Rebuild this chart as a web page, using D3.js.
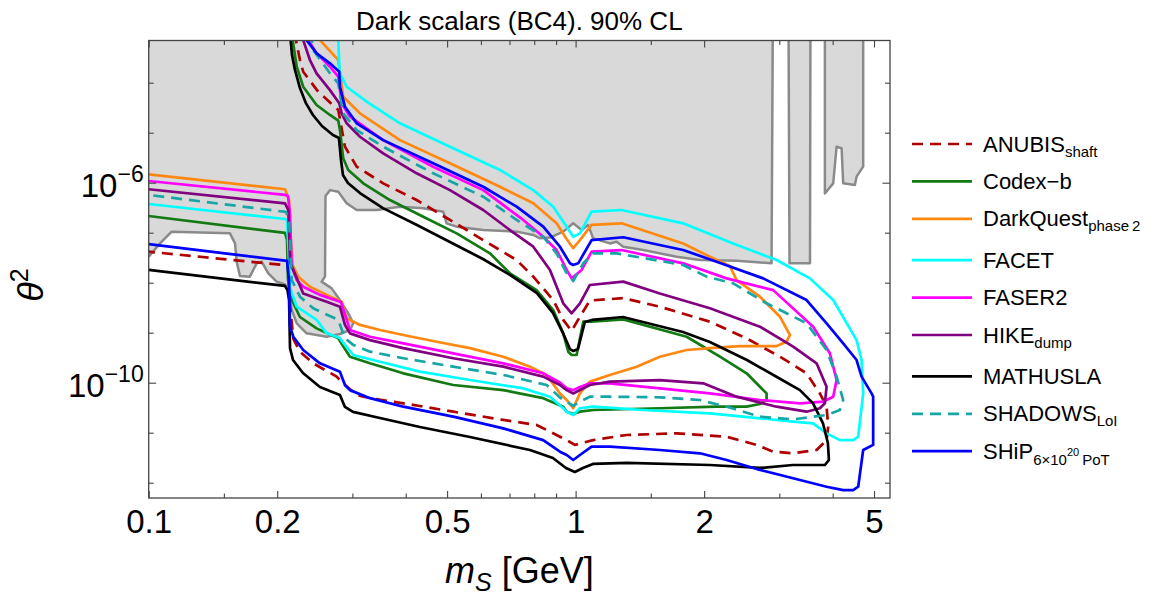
<!DOCTYPE html>
<html><head><meta charset="utf-8">
<script src="https://cdn.jsdelivr.net/npm/d3@7"></script>
<style>
body{margin:0;background:#fff;}
svg{display:block;font-family:"Liberation Sans",Arial,sans-serif;}
</style></head><body>
<svg id="chart" width="1153" height="592"></svg>
<script>
// ---- axis ticks ----
const massMajor = [0.1, 0.2, 0.5, 1, 2, 5];
const massMinor = [0.15, 0.3, 0.4, 0.6, 0.7, 0.8, 0.9, 1.5, 3, 4];
const thetaMajor = [1e-6, 1e-10];
const thetaMinor = [1e-12, 1e-11, 1e-9, 1e-8, 1e-7, 1e-5, 1e-4];

// ---- sensitivity contours: [m_S (GeV), theta^2] ----
const anubis = [[0.219,1e-3],[0.2213,7.1e-4],[0.2261,2.84e-4],[0.2301,1.66e-4],[0.2495,6.6e-5],[0.278,2.84e-5],[0.2882,5.25e-6],[0.307,2.09e-6],[0.3542,9.7e-7],[0.4242,4.5e-7],[0.5077,1.8e-7],[0.6076,7.1e-8],[0.7275,2.84e-8],[0.7959,1.32e-8],[0.8862,4.5e-9],[0.9354,1.8e-9],[0.9786,1.08e-9],[1.0235,2.09e-9],[1.080,4.4e-9],[1.293,4.9e-9],[1.575,3.31e-9],[2.063,1.66e-9],[2.515,7.7e-10],[3.010,3.31e-10],[3.475,1.54e-10],[3.734,6.1e-11],[3.871,3.31e-11],[3.905,1.32e-11],[3.871,7.1e-12],[3.668,4.5e-12],[3.233,3.87e-12],[2.902,4.17e-12],[2.654,5.7e-12],[2.258,8.3e-12],[1.724,9.7e-12],[1.316,9.0e-12],[1.099,7.1e-12],[1.042,6.3e-12],[0.996,5.7e-12],[0.953,7.1e-12],[0.9189,8.3e-12],[0.8101,1.43e-11],[0.6768,1.8e-11],[0.5168,2.63e-11],[0.3948,3.87e-11],[0.3298,4.9e-11],[0.307,5.7e-11],[0.2855,9.7e-11],[0.2756,1.32e-10],[0.2429,2.44e-10],[0.2261,4.17e-10],[0.2182,7.5e-10],[0.2137,4.5e-9],[0.212,2.16e-8],[0.2066,2.26e-8],[0.1,4.17e-8]];

const codexB = [[0.2166,1e-3],[0.2174,7.1e-4],[0.2222,2.09e-4],[0.2301,8.3e-5],[0.2473,3.58e-5],[0.2658,2.26e-5],[0.278,1.74e-5],[0.2805,1.13e-5],[0.2855,3.08e-6],[0.2934,1.8e-6],[0.3181,9.7e-7],[0.3673,4.5e-7],[0.4396,2.09e-7],[0.5264,9.7e-8],[0.6300,3.87e-8],[0.7018,1.54e-8],[0.8101,7.1e-9],[0.8862,2.84e-9],[0.9354,9.7e-10],[0.9609,4.17e-10],[0.9786,3.58e-10],[1.0054,3.58e-10],[1.042,1.66e-9],[1.090,1.66e-9],[1.293,1.85e-9],[1.820,8.3e-10],[2.178,3.31e-10],[2.515,1.54e-10],[2.702,8.3e-11],[2.801,6.1e-11],[2.801,4.5e-11],[2.702,3.75e-11],[2.515,3.31e-11],[2.139,3.31e-11],[1.575,3.08e-11],[1.099,2.84e-11],[1.0235,2.63e-11],[0.987,2.37e-11],[0.953,2.63e-11],[0.9354,3.31e-11],[0.8397,4.9e-11],[0.6768,7.1e-11],[0.5168,9.0e-11],[0.3948,1.54e-10],[0.3298,2.44e-10],[0.2961,3.31e-10],[0.2882,4.72e-10],[0.278,7.7e-10],[0.2473,1.22e-9],[0.2261,2.06e-9],[0.2163,4.5e-9],[0.212,1.13e-8],[0.2109,7.1e-8],[0.2086,9.9e-8],[0.1,2.16e-7]];

const darkQuest = [[0.2490,1e-3],[0.2518,7.1e-4],[0.278,2.84e-4],[0.2805,1.56e-4],[0.2855,5.25e-5],[0.3125,2.44e-5],[0.3877,7.1e-6],[0.5077,2.44e-6],[0.6649,8.3e-7],[0.7959,3.87e-7],[0.9026,1.54e-7],[0.949,7.8e-8],[0.987,4.9e-8],[1.0235,7.1e-8],[1.090,1.43e-7],[1.281,1.54e-7],[1.786,6.1e-8],[2.063,3.31e-8],[2.298,2.16e-8],[2.382,1.13e-8],[2.702,5.25e-9],[3.010,2.09e-9],[3.177,9.0e-10],[3.120,6.6e-10],[2.956,5.4e-10],[2.426,5.4e-10],[2.063,4.9e-10],[1.820,4.5e-10],[1.575,3.31e-10],[1.390,2.09e-10],[1.203,1.43e-10],[1.080,1.05e-10],[1.0235,6.1e-11],[0.987,3.08e-11],[0.953,4.5e-11],[0.9189,6.1e-11],[0.8553,1.43e-10],[0.7818,2.09e-10],[0.6768,3.31e-10],[0.5655,4.9e-10],[0.4726,6.6e-10],[0.3948,9.0e-10],[0.3480,1.13e-9],[0.3125,1.43e-9],[0.2909,1.94e-9],[0.2831,4.17e-9],[0.2611,5.7e-9],[0.2386,8.3e-9],[0.2241,1.32e-8],[0.2174,2.26e-8],[0.2143,1.13e-7],[0.2132,4.5e-7],[0.2086,7.4e-7],[0.1,1.47e-6]];

const facet = [[0.278,1e-3],[0.278,7.1e-4],[0.2801,1.54e-4],[0.2909,8.3e-5],[0.324,4.17e-5],[0.3877,1.54e-5],[0.5077,5.25e-6],[0.6649,1.8e-6],[0.7959,7.1e-7],[0.8862,3.31e-7],[0.953,1.32e-7],[0.987,8.3e-8],[1.0235,9.7e-8],[1.090,2.63e-7],[1.281,2.84e-7],[1.786,1.54e-7],[2.339,6.1e-8],[2.956,2.84e-8],[3.538,1.22e-8],[4.012,4.5e-9],[4.551,7.1e-10],[4.675,2.84e-10],[4.716,6.1e-11],[4.591,8.3e-12],[4.469,7.1e-12],[4.159,7.1e-12],[3.871,9.7e-12],[3.601,1.54e-11],[3.233,1.66e-11],[2.702,1.94e-11],[2.063,2.44e-11],[1.440,2.84e-11],[1.099,3.31e-11],[1.0235,3.08e-11],[0.987,2.26e-11],[0.953,2.63e-11],[0.9354,3.08e-11],[0.8708,5.25e-11],[0.754,7.7e-11],[0.5655,1.13e-10],[0.4318,1.66e-10],[0.3480,2.63e-10],[0.3014,3.58e-10],[0.2882,5.7e-10],[0.2805,7.8e-10],[0.2611,9.7e-10],[0.2473,1.8e-9],[0.2222,3.31e-9],[0.2143,7.8e-9],[0.2126,4.5e-8],[0.2109,1.8e-7],[0.2086,1.88e-7],[0.1,3.75e-7]];

const faser2 = [[0.2335,1e-3],[0.2365,7.1e-4],[0.2473,3.87e-4],[0.2658,2.09e-4],[0.278,1.32e-4],[0.2831,3.87e-5],[0.2961,2.09e-5],[0.3542,7.1e-6],[0.4638,2.09e-6],[0.6076,7.1e-7],[0.754,1.8e-7],[0.8397,8.3e-8],[0.9026,4.5e-8],[0.953,1.8e-8],[0.9786,1.22e-8],[1.033,1.8e-8],[1.090,4.17e-8],[1.281,4.5e-8],[1.786,2.44e-8],[2.258,1.22e-8],[2.902,7.1e-9],[3.601,1.32e-9],[3.941,3.87e-10],[4.086,1.13e-10],[4.012,5.25e-11],[3.801,4.17e-11],[3.353,3.87e-11],[2.702,4.5e-11],[2.063,6.1e-11],[1.575,7.7e-11],[1.203,9.7e-11],[1.080,9.7e-11],[1.0235,8.2e-11],[0.987,7.1e-11],[0.953,7.7e-11],[0.9189,1.01e-10],[0.8397,1.54e-10],[0.6768,2.44e-10],[0.5168,3.87e-10],[0.3948,6.1e-10],[0.3298,8.3e-10],[0.2961,1.13e-9],[0.2909,1.8e-9],[0.2821,4.1e-9],[0.2518,5.7e-9],[0.2301,8.3e-9],[0.2222,1.13e-8],[0.2163,2.09e-8],[0.2143,2.26e-7],[0.212,5.4e-7],[0.2086,5.7e-7],[0.1,1.08e-6]];

const hike = [[0.2274,1e-3],[0.2301,7.1e-4],[0.2386,2.84e-4],[0.2473,1.54e-4],[0.2658,7.1e-5],[0.2795,3.87e-5],[0.2831,2.44e-5],[0.2909,1.54e-5],[0.3125,8.3e-6],[0.3542,3.87e-6],[0.4242,1.54e-6],[0.5077,7.1e-7],[0.6076,2.84e-7],[0.7018,1.13e-7],[0.7959,5.25e-8],[0.8708,1.8e-8],[0.9354,3.87e-9],[0.9786,2.44e-9],[1.0235,3.87e-9],[1.080,9.0e-9],[1.293,1.05e-8],[1.575,6.1e-9],[2.063,3.08e-9],[2.702,1.32e-9],[3.233,5.25e-10],[3.668,2.44e-10],[3.871,8.3e-11],[3.836,3.87e-11],[3.734,3.08e-11],[3.475,2.63e-11],[2.956,3.31e-11],[2.382,5.25e-11],[1.990,9.7e-11],[1.575,1.13e-10],[1.203,1.05e-10],[1.080,9.0e-11],[0.987,6.1e-11],[0.953,7.1e-11],[0.9189,9.0e-11],[0.8397,1.32e-10],[0.6768,2.09e-10],[0.5168,3.08e-10],[0.3948,4.9e-10],[0.3298,7.1e-10],[0.2961,9.7e-10],[0.2882,1.43e-9],[0.2805,3.31e-9],[0.2611,4.17e-9],[0.2301,6.1e-9],[0.2222,1.24e-8],[0.2143,2.6e-8],[0.2123,2.84e-7],[0.2086,3.87e-7],[0.1,7.4e-7]];

const mathusla = [[0.2143,1e-3],[0.2150,7.1e-4],[0.2166,3.6e-4],[0.2201,1.8e-4],[0.2261,7.8e-5],[0.2335,3.9e-5],[0.2425,2.26e-5],[0.2546,1.36e-5],[0.2701,9.0e-6],[0.2790,7.83e-6],[0.2821,2.84e-6],[0.2851,1.43e-6],[0.2929,9.9e-7],[0.3125,6.2e-7],[0.3537,3.1e-7],[0.4249,1.43e-7],[0.5077,6.5e-8],[0.6066,2.98e-8],[0.7018,1.43e-8],[0.8117,6.2e-9],[0.8848,2.48e-9],[0.9338,9.9e-10],[0.9698,4.7e-10],[0.9882,4.3e-10],[1.0125,4.7e-10],[1.051,1.64e-9],[1.092,1.8e-9],[1.291,2.06e-9],[1.784,1.03e-9],[2.063,6.5e-10],[2.519,2.84e-10],[2.961,1.3e-10],[3.353,7.1e-11],[3.596,3.9e-11],[3.795,1.56e-11],[3.899,6.2e-12],[3.92,2.84e-12],[3.836,2.26e-12],[3.228,2.26e-12],[2.702,1.97e-12],[2.063,2.26e-12],[1.319,2.48e-12],[1.098,2.37e-12],[1.040,1.97e-12],[0.996,1.64e-12],[0.949,1.97e-12],[0.8848,3.12e-12],[0.7818,4.5e-12],[0.5655,8.2e-12],[0.4318,1.3e-11],[0.3480,1.97e-11],[0.3010,2.6e-11],[0.2882,3.27e-11],[0.2805,5.7e-11],[0.2518,8.2e-11],[0.2298,1.56e-10],[0.2178,2.84e-10],[0.2143,4.9e-10],[0.2132,4.5e-9],[0.2114,7.1e-9],[0.2086,8.6e-9],[0.1,1.8e-8]];

const shadows = [[0.2374,1e-3],[0.2408,7.1e-4],[0.2429,4.5e-4],[0.2658,1.54e-4],[0.278,9.7e-5],[0.2855,2.44e-5],[0.307,1.13e-5],[0.3542,5.25e-6],[0.4638,1.54e-6],[0.6076,5.25e-7],[0.7275,1.8e-7],[0.8397,8.3e-8],[0.9026,3.87e-8],[0.949,1.64e-8],[0.987,1.08e-8],[1.042,2.44e-8],[1.099,3.87e-8],[1.247,3.87e-8],[1.786,2.26e-8],[2.027,1.32e-8],[2.339,9.7e-9],[2.801,3.87e-9],[3.475,1.54e-9],[3.871,4.5e-10],[4.086,1.32e-10],[4.234,4.5e-11],[4.159,2.84e-11],[3.871,2.26e-11],[3.233,1.85e-11],[2.702,2.09e-11],[2.258,3.31e-11],[1.955,4.5e-11],[1.575,5.1e-11],[1.203,5.25e-11],[1.080,5.25e-11],[1.0235,4.17e-11],[0.987,3.42e-11],[0.953,4.17e-11],[0.9189,5.06e-11],[0.8553,9.0e-11],[0.6768,1.43e-10],[0.5168,2.09e-10],[0.3948,3.08e-10],[0.3298,4.17e-10],[0.3014,5.7e-10],[0.2882,7.7e-10],[0.278,1.8e-9],[0.2429,3.08e-9],[0.2261,5.25e-9],[0.2163,1.13e-8],[0.2132,1.8e-7],[0.2097,2.6e-7],[0.1,5.7e-7]];

const ship = [[0.2316,1e-3],[0.2344,7.1e-4],[0.2473,3.87e-4],[0.2658,2.44e-4],[0.2795,1.66e-4],[0.2805,8.3e-5],[0.2882,3.31e-5],[0.307,1.54e-5],[0.3542,7.1e-6],[0.4638,2.44e-6],[0.6076,8.3e-7],[0.7275,3.31e-7],[0.8397,1.32e-7],[0.9189,5.25e-8],[0.9698,2.44e-8],[0.987,2.26e-8],[1.014,2.44e-8],[1.090,7.1e-8],[1.293,8.1e-8],[1.786,4.5e-8],[2.139,2.63e-8],[2.750,1.22e-8],[3.475,4.5e-9],[3.871,1.54e-9],[4.234,6.1e-10],[4.551,2.84e-10],[4.675,1.32e-10],[4.934,6.1e-11],[4.977,5.25e-11],[4.977,5.7e-12],[4.716,4.5e-12],[4.591,8.3e-13],[4.469,7.1e-13],[4.234,7.1e-13],[3.871,8.3e-13],[3.353,1.13e-12],[2.702,1.8e-12],[2.258,2.84e-12],[1.955,3.87e-12],[1.575,4.5e-12],[1.203,5.25e-12],[1.090,5.25e-12],[1.0235,3.58e-12],[0.987,2.84e-12],[0.953,3.58e-12],[0.9189,4.17e-12],[0.8397,7.1e-12],[0.6768,1.22e-11],[0.5168,2.09e-11],[0.3948,3.31e-11],[0.3298,4.9e-11],[0.2961,7.1e-11],[0.2882,9.0e-11],[0.2805,1.66e-10],[0.2518,2.44e-10],[0.2301,4.5e-10],[0.2182,8.3e-10],[0.2143,1.32e-9],[0.2132,1.13e-8],[0.2109,2.72e-8],[0.1,5.9e-8]];

// ---- existing exclusion (grey) ----
const excludedMain = [[0.1,1e-2],[2.90,1e-2],[2.877,2.44e-8],[2.382,2.75e-8],[1.955,2.84e-8],[1.724,3.31e-8],[1.440,4.5e-8],[1.293,5.25e-8],[1.247,6.6e-8],[1.203,6.1e-8],[1.099,7.7e-8],[1.070,1.43e-7],[1.033,1.13e-7],[0.987,1.54e-7],[0.9354,1.05e-7],[0.8708,8.0e-8],[0.8251,7.7e-8],[0.7959,9.0e-8],[0.7275,1.05e-7],[0.6076,1.13e-7],[0.5264,1.32e-7],[0.4986,1.54e-7],[0.4898,2.63e-7],[0.4396,3.08e-7],[0.3877,3.31e-7],[0.342,2.84e-7],[0.307,2.84e-7],[0.2909,3.87e-7],[0.278,6.6e-7],[0.2658,7.1e-7],[0.2595,5.4e-7],[0.2588,1.32e-8],[0.2542,1.05e-8],[0.2683,7.7e-9],[0.2805,4.5e-9],[0.2934,2.44e-9],[0.3014,1.54e-9],[0.2961,1.13e-9],[0.2805,9.4e-10],[0.2611,8.3e-10],[0.2344,9.7e-10],[0.2222,1.54e-9],[0.2163,2.84e-9],[0.2126,6.5e-9],[0.2086,9.2e-9],[0.1994,1.05e-8],[0.1906,1.54e-8],[0.1839,2.63e-8],[0.1790,2.44e-8],[0.1726,1.32e-8],[0.1636,1.36e-8],[0.1607,2.63e-8],[0.1593,6.1e-8],[0.1550,9.7e-8],[0.1132,1.05e-7],[0.1063,6.1e-8],[0.1,3.31e-8]];
const excludedStripA = [[3.15,1e-2],[3.17,2.44e-8],[3.54,2.44e-8],[3.55,1e-2]];
const excludedStripB = [[3.836,1e-2],[3.836,6.1e-7],[4.012,9.7e-7],[4.086,5.25e-6],[4.198,4.9e-6],[4.234,9.7e-7],[4.509,9.0e-7],[4.551,1.32e-6],[4.716,2.09e-6],[4.716,1e-2]];

const experiments = [
  {name:"ANUBIS", sub:"shaft", data:anubis, color:"#b00000", dash:"11,7"},
  {name:"Codex\u2212b", sub:"", data:codexB, color:"#137a13", dash:null},
  {name:"DarkQuest", sub:"phase\u20092", data:darkQuest, color:"#ff8811", dash:null},
  {name:"FACET", sub:"", data:facet, color:"#00ffff", dash:null},
  {name:"FASER2", sub:"", data:faser2, color:"#ff00ff", dash:null},
  {name:"HIKE", sub:"dump", data:hike, color:"#800080", dash:null},
  {name:"MATHUSLA", sub:"", data:mathusla, color:"#000000", dash:null},
  {name:"SHADOWS", sub:"LoI", data:shadows, color:"#17a6a6", dash:"11,7"},
  {name:"SHiP", sub:"ship", data:ship, color:"#0000ff", dash:null}
];

// ---- layout ----
const plot = {left:148.7, right:890, top:40.5, bottom:498};
const x = d3.scaleLog().domain([0.1, 5.45]).range([plot.left, plot.right]);
const y = d3.scaleLog().domain([4.94e-13, 6.98e-4]).range([plot.bottom, plot.top]);
const frameColor = "#444";
const svg = d3.select("#chart");

svg.append("defs").append("clipPath").attr("id","plotClip")
  .append("rect").attr("x",plot.left).attr("y",plot.top)
  .attr("width",plot.right-plot.left).attr("height",plot.bottom-plot.top);

const area = svg.append("g").attr("clip-path","url(#plotClip)");
const line = d3.line().x(d=>x(d[0])).y(d=>y(d[1]));

// grey excluded region
area.append("path").attr("d", line(excludedMain)+"Z").attr("fill","#d9d9d9").attr("stroke","none");
area.append("path").attr("d", line(excludedMain.slice(1))).attr("fill","none")
  .attr("stroke","#8a8a8a").attr("stroke-width",2.5).attr("stroke-linejoin","round");
[excludedStripA, excludedStripB].forEach(s=>{
  area.append("path").attr("d", line(s)+"Z").attr("fill","#d9d9d9")
    .attr("stroke","#8a8a8a").attr("stroke-width",2.5).attr("stroke-linejoin","round");
});

// contours
experiments.forEach(e=>{
  area.append("path").attr("d", line(e.data)).attr("fill","none")
    .attr("stroke", e.color).attr("stroke-width",2.7)
    .attr("stroke-linejoin","round")
    .attr("stroke-dasharray", e.dash);
});

// frame
svg.append("rect").attr("x",plot.left).attr("y",plot.top)
  .attr("width",plot.right-plot.left).attr("height",plot.bottom-plot.top)
  .attr("fill","none").attr("stroke",frameColor).attr("stroke-width",1.3);

function styleAxis(g){
  g.select(".domain").remove();
  g.selectAll(".tick line").attr("stroke",frameColor).attr("stroke-width",1.1);
}
// x ticks (inward)
svg.append("g").attr("transform",`translate(0,${plot.bottom})`)
  .call(d3.axisBottom(x).tickValues(massMajor).tickSize(-7).tickPadding(12).tickFormat(d3.format("~g")))
  .call(styleAxis)
  .call(g=>g.selectAll("text").attr("font-size",33).attr("font-family","Liberation Sans, Arial, sans-serif").attr("fill","#000"));
svg.append("g").attr("transform",`translate(0,${plot.bottom})`)
  .call(d3.axisBottom(x).tickValues(massMinor).tickSize(-4.5).tickFormat("")).call(styleAxis);
svg.append("g").attr("transform",`translate(0,${plot.top})`)
  .call(d3.axisTop(x).tickValues(massMajor).tickSize(-7).tickFormat("")).call(styleAxis);
svg.append("g").attr("transform",`translate(0,${plot.top})`)
  .call(d3.axisTop(x).tickValues(massMinor).tickSize(-4.5).tickFormat("")).call(styleAxis);
// y ticks (inward)
svg.append("g").attr("transform",`translate(${plot.left},0)`)
  .call(d3.axisLeft(y).tickValues(thetaMajor).tickSize(-7.5).tickFormat("")).call(styleAxis);
svg.append("g").attr("transform",`translate(${plot.left},0)`)
  .call(d3.axisLeft(y).tickValues(thetaMinor).tickSize(-5).tickFormat("")).call(styleAxis);
svg.append("g").attr("transform",`translate(${plot.right},0)`)
  .call(d3.axisRight(y).tickValues(thetaMajor).tickSize(-7.5).tickFormat("")).call(styleAxis);
svg.append("g").attr("transform",`translate(${plot.right},0)`)
  .call(d3.axisRight(y).tickValues(thetaMinor).tickSize(-5).tickFormat("")).call(styleAxis);

// y tick labels 10^n
thetaMajor.forEach(v=>{
  const t = svg.append("text").attr("x",plot.left-5).attr("y",y(v)+14)
    .attr("text-anchor","end").attr("fill","#000");
  t.append("tspan").attr("font-size",33).text("10");
  t.append("tspan").attr("font-size",23).attr("dy",-15).text("\u2212"+Math.round(-Math.log10(v)));
});

// title
svg.append("text").attr("x",(plot.left+plot.right)/2).attr("y",30)
  .attr("text-anchor","middle").attr("font-size",26).attr("fill","#000")
  .text("Dark scalars (BC4). 90% CL");

// x label
const xl = svg.append("text").attr("x",(plot.left+plot.right)/2).attr("y",583)
  .attr("text-anchor","middle").attr("font-size",36).attr("fill","#000");
xl.append("tspan").attr("font-style","italic").text("m");
xl.append("tspan").attr("font-style","italic").attr("font-size",25).attr("dy",8).text("S");
xl.append("tspan").attr("dy",-8).text(" [GeV]");

// y label
const yl = svg.append("text").attr("transform","translate(43,285) rotate(-90)")
  .attr("text-anchor","middle").attr("font-size",36).attr("fill","#000");
yl.append("tspan").attr("font-style","italic").text("\u03b8");
yl.append("tspan").attr("font-size",25).attr("dy",-15).text("2");

// legend
const legendTop = 144, legendStep = 37.4;
let ly = legendTop;
experiments.forEach((e,i)=>{
  const g = svg.append("g");
  g.append("line").attr("x1",912).attr("x2",972).attr("y1",ly).attr("y2",ly)
    .attr("stroke",e.color).attr("stroke-width",2.7).attr("stroke-dasharray",e.dash);
  const t = g.append("text").attr("x",983).attr("y",ly+7.5).attr("font-size",22).attr("fill","#000");
  t.append("tspan").text(e.name);
  if (e.sub === "ship") {
    t.append("tspan").attr("font-size",15).attr("dy",6).text("6\u00d710");
    t.append("tspan").attr("font-size",11).attr("dy",-9).text("20");
    t.append("tspan").attr("font-size",15).attr("dy",9).text("\u2009PoT");
  } else if (e.sub) {
    t.append("tspan").attr("font-size",15).attr("dy",5).text(e.sub);
  }
  ly += legendStep + (/[pqgy]/.test(e.sub) && e.sub!=="ship" ? 4 : 0);
});
</script>
</body></html>
